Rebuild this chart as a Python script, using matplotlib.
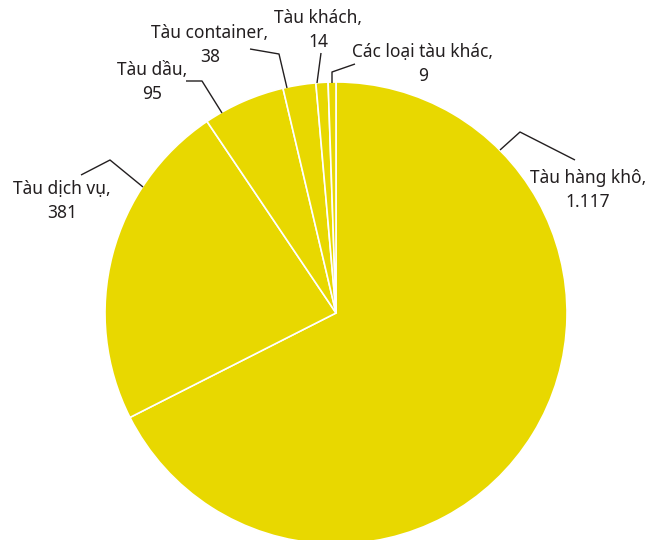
import matplotlib
matplotlib.use("Agg")
import matplotlib.pyplot as plt

# data
categories = ["Tàu hàng khô", "Tàu dịch vụ", "Tàu dầu", "Tàu container",
              "Tàu khách", "Các loại tàu khác"]
values = [1117, 381, 95, 38, 14, 9]
value_labels = ["1.117", "381", "95", "38", "14", "9"]

# layout, in pixel coords of the 650x540 canvas (y measured from top)
W, H = 650, 540
CX, CY, R = 336, 313, 231
# text block centre (x, y) and leader polyline for each label
label_pos = [(588, 190), (62, 201), (152, 82), (210, 45), (318, 30), (423, 64)]
leaders = [
    [(500, 150), (520, 132), (575, 160)],
    [(143, 187), (110, 160), (81, 175)],
    [(222, 113), (202, 81), (186, 81)],
    [(287, 88), (279, 54), (250, 49)],
    [(317, 83), (321, 53)],
    [(332, 83), (332, 72), (355, 64)],
]

YELLOW = "#e8d800"
TEXT = "#231f20"
plt.rcParams["font.family"] = ["Noto Sans", "DejaVu Sans"]

fig = plt.figure(figsize=(W / 100, H / 100), dpi=100)
ax = fig.add_axes([0, 0, 1, 1])

ax.pie(values, colors=[YELLOW] * len(values), startangle=90, counterclock=False,
       center=(CX, H - CY), radius=R, frame=True,
       wedgeprops=dict(edgecolor="white", linewidth=1.2))
ax.set_xlim(0, W)
ax.set_ylim(0, H)
ax.set_aspect("equal")
ax.axis("off")

for name, val, (tx, ty), pts in zip(categories, value_labels, label_pos, leaders):
    xs = [p[0] for p in pts]
    ys = [H - p[1] for p in pts]
    ax.plot(xs, ys, color=TEXT, lw=1.0, solid_capstyle="butt")
    ax.text(tx, H - ty, f"{name},\n{val}", ha="center", va="center", fontsize=12.5,
            color=TEXT, linespacing=1.4)

fig.savefig("out.png", dpi=100)
